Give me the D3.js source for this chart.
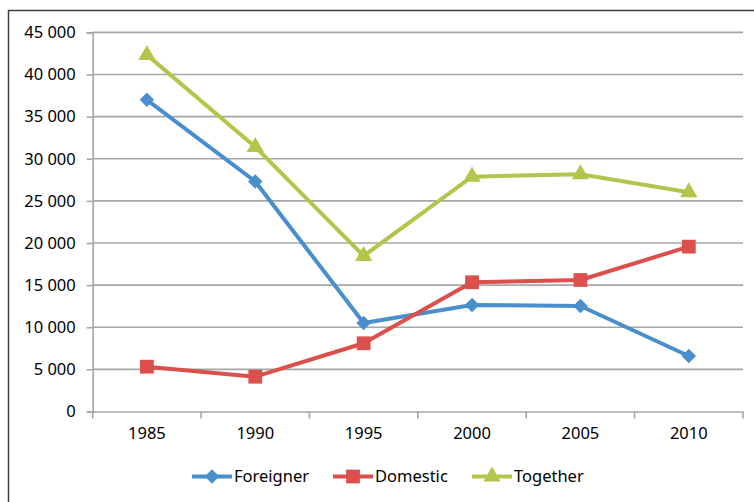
<!DOCTYPE html>
<html><head><meta charset="utf-8">
<script src="https://cdn.jsdelivr.net/npm/d3@7"></script>
<style>
body{margin:0;background:#fff;}
svg{display:block;font-family:"Noto Sans",sans-serif;}
</style></head>
<body><svg id="c" width="754" height="502"></svg>
<script>
const years = ["1985","1990","1995","2000","2005","2010"];
const foreigner = [37000, 27300, 10500, 12650, 12520, 6590];
const domestic = [5320, 4130, 8100, 15340, 15610, 19570];
const together = [42330, 31400, 18460, 27880, 28160, 26020];
const yTicks = [0,5000,10000,15000,20000,25000,30000,35000,40000,45000];
const seriesNames = ["Foreigner","Domestic","Together"];
const colors = ["#4A8FCD","#DB504C","#B3C64B"];
const symbols = [d3.symbolSquare, d3.symbolSquare, d3.symbolTriangle];
const symRot = [45, 0, 0];
const symSizes = [105, 190, 130];

const svg = d3.select("#c");
// outer border (top and left visible)
svg.append("rect").attr("x",8.5).attr("y",10.5).attr("width",800).attr("height",600)
  .attr("fill","none").attr("stroke","#404040").attr("stroke-width",1.5);

const pLeft=92.7, pRight=743, pTop=32.4, pBottom=411.5;
const x = d3.scaleBand().domain(years).range([pLeft,pRight]);
const y = d3.scaleLinear().domain([0,45000]).range([pBottom,pTop]);
const fmt = v => d3.format(",")(v).replace(/,/g," ");

// gridlines
svg.append("g").selectAll("line").data(yTicks.filter(d=>d>0)).join("line")
  .attr("x1",pLeft).attr("x2",pRight).attr("y1",d=>y(d)).attr("y2",d=>y(d))
  .attr("stroke","#a6a6a6").attr("stroke-width",1.6);

// y axis
const ya = svg.append("g").attr("transform",`translate(${pLeft},0)`)
  .call(d3.axisLeft(y).tickValues(yTicks).tickFormat(fmt).tickSize(6).tickPadding(11));
ya.select(".domain").attr("stroke","#a6a6a6").attr("stroke-width",1.6);
ya.selectAll(".tick line").attr("stroke","#a6a6a6").attr("stroke-width",1.6);
ya.selectAll("text").attr("font-size","16.5px").attr("fill","#000").attr("font-family","Noto Sans");

// x axis
const xa = svg.append("g").attr("transform",`translate(0,${pBottom})`)
  .call(d3.axisBottom(x).tickSize(0).tickPadding(16));
xa.select(".domain").attr("stroke","#a6a6a6").attr("stroke-width",1.6);
xa.selectAll("text").attr("font-size","16.5px").attr("fill","#000").attr("font-family","Noto Sans");
// category boundary ticks
const bounds = years.map(d=>x(d)).concat([pRight]);
svg.append("g").selectAll("line").data(bounds).join("line")
  .attr("x1",d=>d).attr("x2",d=>d).attr("y1",pBottom).attr("y2",pBottom+7)
  .attr("stroke","#a6a6a6").attr("stroke-width",1.6);

const cx = d => x(d)+x.bandwidth()/2;
const data = [foreigner, domestic, together];
const line = d3.line().x((d,i)=>cx(years[i])).y(d=>y(d));

data.forEach((vals,k)=>{
  svg.append("path").datum(vals).attr("d",line).attr("fill","none")
    .attr("stroke",colors[k]).attr("stroke-width",4).attr("stroke-linejoin","round");
  svg.append("g").selectAll("path").data(vals).join("path")
    .attr("transform",(d,i)=>`translate(${cx(years[i])},${y(d)}) rotate(${symRot[k]})`)
    .attr("d",d3.symbol().type(symbols[k]).size(symSizes[k])).attr("fill",colors[k]);
});

// legend
const legX = [192, 333, 472];
const legY = 476.5;
const lg = svg.append("g");
seriesNames.forEach((n,k)=>{
  lg.append("line").attr("x1",legX[k]).attr("x2",legX[k]+40).attr("y1",legY).attr("y2",legY)
    .attr("stroke",colors[k]).attr("stroke-width",4);
  lg.append("path").attr("transform",`translate(${legX[k]+20},${legY}) rotate(${symRot[k]})`)
    .attr("d",d3.symbol().type(symbols[k]).size(symSizes[k])).attr("fill",colors[k]);
  lg.append("text").attr("x",legX[k]+42).attr("y",legY).attr("dy","0.35em")
    .attr("font-size","16.5px").attr("fill","#000").text(n);
});
</script></body></html>
